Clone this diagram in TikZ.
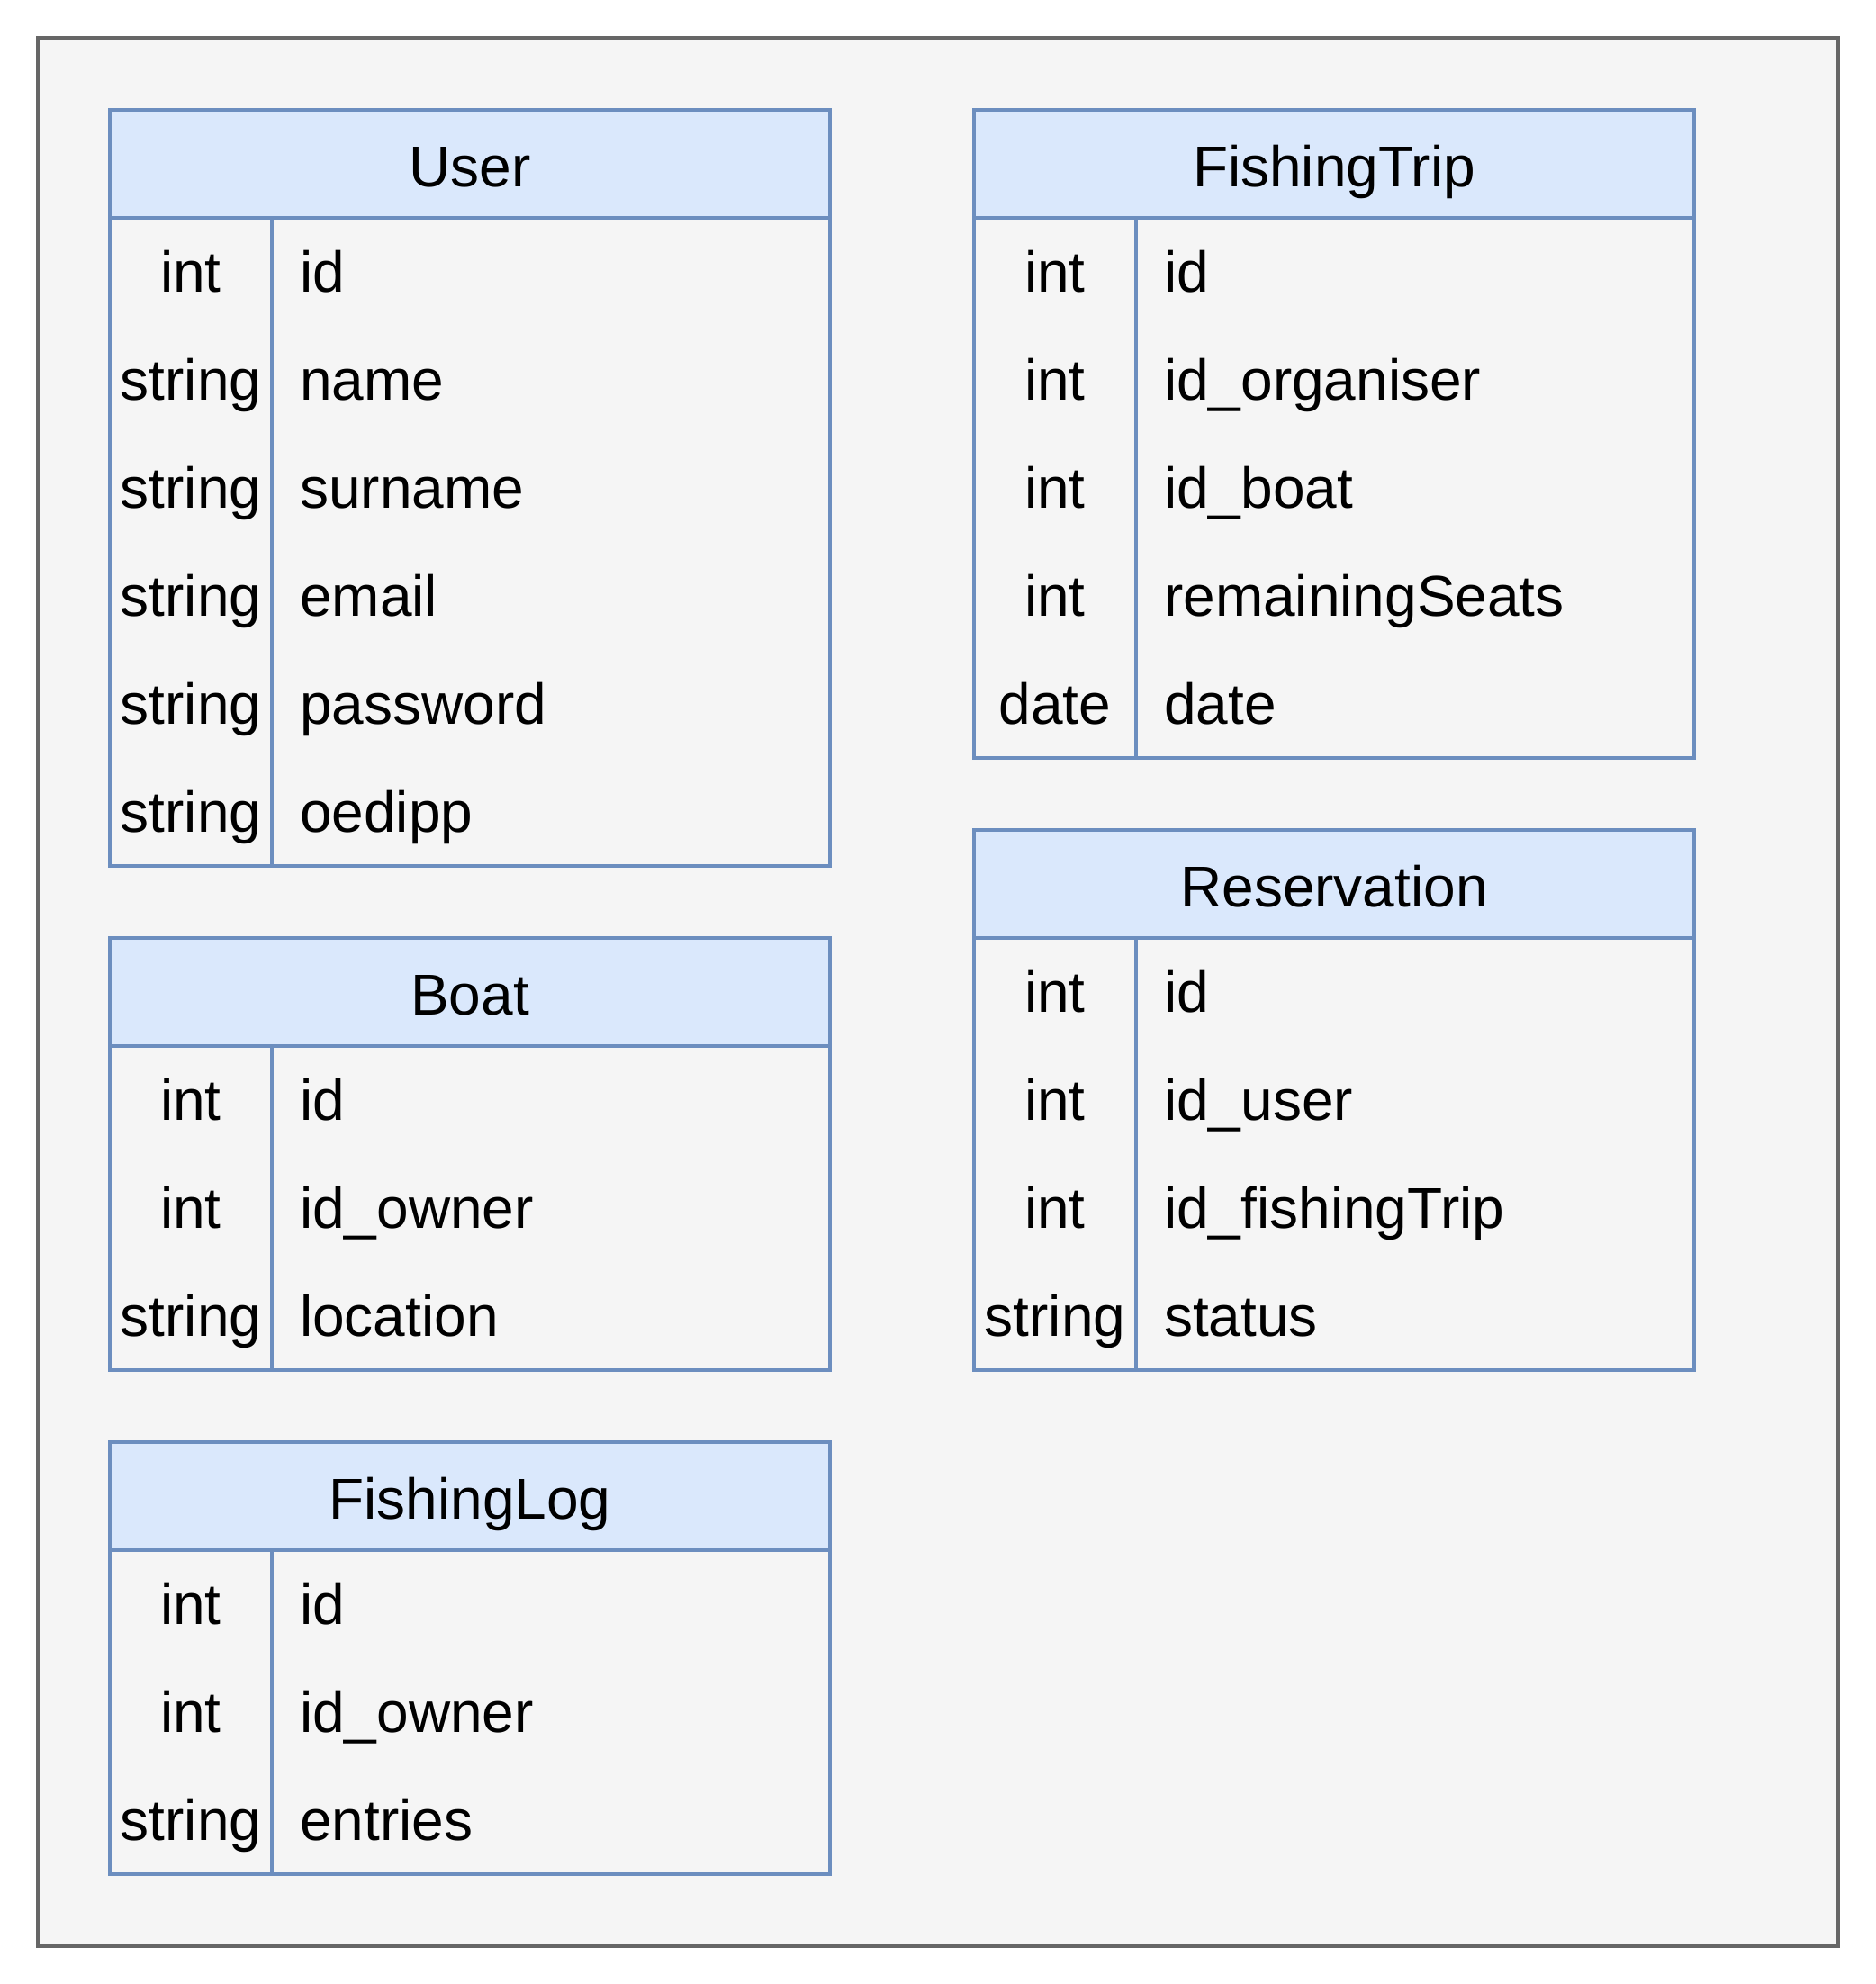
\documentclass[tikz,border=0pt]{standalone}
\usepackage{fontspec}
\setmainfont{Liberation Sans}
\usetikzlibrary{calc,positioning}
\definecolor{framefill}{HTML}{F5F5F5}
\definecolor{framedraw}{HTML}{666666}
\definecolor{headfill}{HTML}{DAE8FC}
\definecolor{headdraw}{HTML}{6C8EBF}
\tikzset{
    frame/.style={draw=framedraw, fill=framefill, line width=0.04cm, minimum width=20cm, minimum height=21.2cm, inner sep=0pt, outer sep=0pt},
    tablehead/.style={draw=headdraw, fill=headfill, line width=0.04cm, minimum width=8cm, minimum height=1.2cm, inner sep=0pt, outer sep=0pt, anchor=north west, text height=0.518cm, text depth=0pt},
    tablebody/.style={draw=headdraw, line width=0.04cm, minimum width=8cm, inner sep=0pt, outer sep=0pt},
    tableline/.style={draw=headdraw, line width=0.04cm},
    typecell/.style={inner sep=0pt, text height=0.458cm, text depth=0pt},
    fieldcell/.style={inner sep=0pt, anchor=west, text height=0.458cm, text depth=0pt},
}
\begin{document}
\begin{tikzpicture}[font=\fontsize{18.2}{22}\selectfont]
                \def\row{1.2}
                \def\typex{0.9}
                \def\fieldx{2.105}
                \useasboundingbox (0,0) rectangle (20.84,-22.04);
                \node [frame] (canvas) at (10.42,-11.02) {};

                % User
                \node [tablehead] (user) at (1.22,-1.22) {User};
                \node [tablebody, minimum height=6*\row cm, below=0pt of user] (user-body) {};
                \draw [tableline] ($(user-body.north west)+(1.8,0)$) -- ($(user-body.south west)+(1.8,0)$);
                \foreach \type/\field [count=\i] in {int/id, string/name, string/surname, string/email, string/password, string/oedipp} {
                    \node [typecell] (user-type-\i) at ($(user-body.north west)+(\typex,0.5*\row-\i*\row)$) {\type};
                    \node [fieldcell] (user-field-\i) at ($(user-body.north west)+(\fieldx,0.5*\row-\i*\row)$) {\field};
                }

                % Boat
                \node [tablehead] (boat) at (1.22,-10.42) {Boat};
                \node [tablebody, minimum height=3*\row cm, below=0pt of boat] (boat-body) {};
                \draw [tableline] ($(boat-body.north west)+(1.8,0)$) -- ($(boat-body.south west)+(1.8,0)$);
                \foreach \type/\field [count=\i] in {int/id, int/id\_owner, string/location} {
                    \node [typecell] (boat-type-\i) at ($(boat-body.north west)+(\typex,0.5*\row-\i*\row)$) {\type};
                    \node [fieldcell] (boat-field-\i) at ($(boat-body.north west)+(\fieldx,0.5*\row-\i*\row)$) {\field};
                }

                % FishingLog
                \node [tablehead] (fishinglog) at (1.22,-16.02) {FishingLog};
                \node [tablebody, minimum height=3*\row cm, below=0pt of fishinglog] (fishinglog-body) {};
                \draw [tableline] ($(fishinglog-body.north west)+(1.8,0)$) -- ($(fishinglog-body.south west)+(1.8,0)$);
                \foreach \type/\field [count=\i] in {int/id, int/id\_owner, string/entries} {
                    \node [typecell] (fishinglog-type-\i) at ($(fishinglog-body.north west)+(\typex,0.5*\row-\i*\row)$) {\type};
                    \node [fieldcell] (fishinglog-field-\i) at ($(fishinglog-body.north west)+(\fieldx,0.5*\row-\i*\row)$) {\field};
                }

                % FishingTrip
                \node [tablehead] (fishingtrip) at (10.82,-1.22) {FishingTrip};
                \node [tablebody, minimum height=5*\row cm, below=0pt of fishingtrip] (fishingtrip-body) {};
                \draw [tableline] ($(fishingtrip-body.north west)+(1.8,0)$) -- ($(fishingtrip-body.south west)+(1.8,0)$);
                \foreach \type/\field [count=\i] in {int/id, int/id\_organiser, int/id\_boat, int/remainingSeats, date/date} {
                    \node [typecell] (fishingtrip-type-\i) at ($(fishingtrip-body.north west)+(\typex,0.5*\row-\i*\row)$) {\type};
                    \node [fieldcell] (fishingtrip-field-\i) at ($(fishingtrip-body.north west)+(\fieldx,0.5*\row-\i*\row)$) {\field};
                }

                % Reservation
                \node [tablehead] (reservation) at (10.82,-9.22) {Reservation};
                \node [tablebody, minimum height=4*\row cm, below=0pt of reservation] (reservation-body) {};
                \draw [tableline] ($(reservation-body.north west)+(1.8,0)$) -- ($(reservation-body.south west)+(1.8,0)$);
                \foreach \type/\field [count=\i] in {int/id, int/id\_user, int/id\_fishingTrip, string/status} {
                    \node [typecell] (reservation-type-\i) at ($(reservation-body.north west)+(\typex,0.5*\row-\i*\row)$) {\type};
                    \node [fieldcell] (reservation-field-\i) at ($(reservation-body.north west)+(\fieldx,0.5*\row-\i*\row)$) {\field};
                }

            \end{tikzpicture}
\end{document}
